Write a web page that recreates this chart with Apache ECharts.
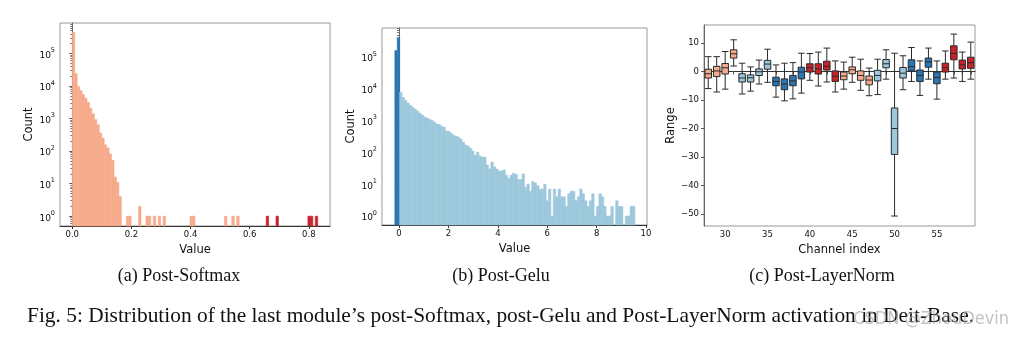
<!DOCTYPE html>
<html><head><meta charset="utf-8">
<script src="https://cdn.jsdelivr.net/npm/echarts@6/dist/echarts.min.js"></script>
<style>html,body{margin:0;padding:0;background:#fff;}#c{width:1009px;height:337px;}</style>
</head><body><div id="c"></div>
<script>
// ---------- Panel (a): Post-Softmax histogram ----------
const softmaxBinStart = 0;
const softmaxBinWidth = 0.0083;
const softmaxCounts = [
  450000,24000,9600,7200,5400,4200,3100,2100,1400,920,
  640,360,250,155,125,82,52,16,11,4,
  0,0,1,1,0,0,0,2,0,0,
  1,1,0,1,0,1,0,1,0,0,
  0,0,0,0,0,0,0,0,1,1,
  0,0,0,0,0,0,0,0,0,0,
  0,0,1,0,0,1,0,1,0,0,
  0,0,0,0,0,0,0,0,0,1,
  0,0,0,1,0,0,0,0,0,0,
  0,0,0,0,0,0,1,1,0,1
];
const softmaxXTicks = [0, 0.2, 0.4, 0.6, 0.8];
const softmaxOutlierFrom = 0.6;

// ---------- Panel (b): Post-Gelu histogram ----------
const geluBinStart = -0.17;
const geluBinWidth = 0.0972;
const geluCounts = [
  160000,410000,7760,5370,4370,3550,3020,2630,2290,2000,
  1700,1480,1290,1200,1100,1000,890,776,760,660,
  617,468,460,398,347,324,302,263,209,170,
  158,135,110,81,102,76,71,70,40,30,
  49,35,30,26,26,28,19,15,19,22,
  20,14,14,21,8,10,6,12,11,9,
  7,7,10,3,7,1,7,4,7,4,
  4,2,5,6,6,3,4,7,5,3,
  2,3,5,1,2,5,4,2,1,1,
  2,0,3,2,2,0,1,1,2,2
];
const geluXTicks = [0, 2, 4, 6, 8, 10];
const logTicks = [1, 10, 100, 1000, 10000, 100000];

// ---------- Panel (c): Post-LayerNorm boxplots ----------
const channels = [28,29,30,31,32,33,34,35,36,37,38,39,40,41,42,43,44,45,46,47,48,49,50,51,52,53,54,55,56,57,58,59];
// [min, Q1, median, Q3, max]
const boxStats = [
  [-6.0,-2.3,-0.8,0.8,5.2],
  [-7.2,-1.8,0.2,1.8,5.2],
  [-6.2,-0.9,1.3,2.8,7.0],
  [1.9,4.7,6.2,7.6,11.1],
  [-7.9,-3.7,-2.3,-0.8,2.9],
  [-6.9,-3.7,-2.2,-1.2,1.6],
  [-4.4,-1.4,-0.1,0.9,4.0],
  [-3.8,0.8,2.6,3.9,7.8],
  [-9.0,-5.0,-3.5,-2.0,2.3],
  [-10.3,-6.4,-4.4,-2.6,2.9],
  [-9.6,-5.0,-3.3,-1.4,3.1],
  [-7.6,-2.6,-0.2,1.5,6.4],
  [-3.1,-0.2,1.3,2.7,6.3],
  [-5.1,-0.9,0.9,2.7,6.8],
  [-3.7,0.5,1.8,3.6,8.2],
  [-7.2,-3.5,-1.7,0.2,3.7],
  [-6.2,-2.9,-1.6,-0.2,3.3],
  [-3.8,-0.8,0.6,1.6,5.0],
  [-6.6,-3.1,-1.4,0.2,4.3],
  [-8.5,-4.7,-3.0,-1.6,1.2],
  [-8.1,-3.3,-1.4,0.4,4.3],
  [-2.7,1.3,2.7,4.2,7.6],
  [-50.7,-29.1,-20.0,-12.8,6.4],
  [-6.4,-2.3,-0.6,1.4,5.5],
  [-3.5,0.2,1.7,4.1,8.4],
  [-8.4,-3.5,-1.4,0.5,3.7],
  [-2.7,1.5,3.4,4.7,8.2],
  [-9.7,-4.3,-2.1,-0.2,3.7],
  [-2.7,-0.2,1.3,2.9,7.2],
  [-2.3,4.1,6.3,9.0,13.1],
  [-3.5,0.9,2.3,4.0,6.8],
  [-2.7,1.1,3.1,5.0,10.3]
];
const rangeTicks = [-50, -40, -30, -20, -10, 0, 10];
const channelTickLabels = [30, 35, 40, 45, 50, 55];

const subCaptions = ['(a) Post-Softmax', '(b) Post-Gelu', '(c) Post-LayerNorm'];
const figCaption = 'Fig. 5: Distribution of the last module\u2019s post-Softmax, post-Gelu and Post-LayerNorm activation in Deit-Base.';
const watermark = 'CSDN @ZhouDevin';

// ---------- styles ----------
const C_SALMON = '#F6AB8C';
const C_RED = '#C9232A';
const C_LBLUE = '#9CC8DC';
const C_DBLUE = '#2A76B4';
const FONT = 'DejaVu Sans';
const TICK_FS = 8.5;
const boxPalette = [C_SALMON, C_LBLUE, C_DBLUE, C_RED];

const A_YMIN = 0.5, A_YMAX = 8.6e5;
const B_YMIN = 0.52, B_YMAX = 8.2e5;

function histItems(start, width, counts) {
  const out = [];
  counts.forEach((c, i) => { if (c > 0) out.push([start + i * width, start + (i + 1) * width, c]); });
  return out;
}
function histRender(colorFn, yBase) {
  return function (params, api) {
    const x0 = api.value(0), x1 = api.value(1), c = api.value(2);
    const p0 = api.coord([x0, c]);
    const p1 = api.coord([x1, yBase]);
    const cs = params.coordSys;
    const rect = echarts.graphic.clipRectByRect(
      { x: p0[0], y: p0[1], width: p1[0] - p0[0], height: p1[1] - p0[1] },
      { x: cs.x, y: cs.y, width: cs.width, height: cs.height });
    if (!rect) return;
    const col = colorFn((x0 + x1) / 2);
    return { type: 'rect', shape: rect, style: { fill: col, stroke: col, lineWidth: 0.6 } };
  };
}
function supFormatter(v) {
  const e = Math.round(Math.log10(v));
  return '{b|10}{s|' + e + '}';
}
const supRich = {
  b: { fontFamily: FONT, fontSize: 9, color: '#111', lineHeight: 13, verticalAlign: 'bottom' },
  s: { fontFamily: FONT, fontSize: 6.5, color: '#111', lineHeight: 13, verticalAlign: 'top' }
};
function logYAxis(gridIndex, min, max) {
  return {
    type: 'log', gridIndex, min, max, logBase: 10,
    name: 'Count', nameLocation: 'middle', nameGap: 24,
    nameTextStyle: { fontFamily: FONT, fontSize: 11.5, color: '#111' },
    axisLine: { show: true, lineStyle: { color: '#666', width: 1 } },
    axisTick: { show: true, length: 3, lineStyle: { color: '#555' }, customValues: logTicks },
    minorTick: { show: true, splitNumber: 9, length: 2, lineStyle: { color: '#777' } },
    axisLabel: { customValues: logTicks, formatter: supFormatter, rich: supRich, margin: 5 },
    splitLine: { show: false }, minorSplitLine: { show: false }
  };
}
function valXAxis(gridIndex, min, max, ticks, fmt) {
  return {
    type: 'value', gridIndex, min, max,
    name: 'Value', nameLocation: 'middle', nameGap: 14,
    nameTextStyle: { fontFamily: FONT, fontSize: 11.5, color: '#111' },
    axisLine: { show: true, onZero: false, lineStyle: { color: '#333', width: 1 } },
    axisTick: { show: true, length: 3, lineStyle: { color: '#333' }, customValues: ticks },
    axisLabel: { customValues: ticks, formatter: fmt, fontFamily: FONT, fontSize: TICK_FS, color: '#111', margin: 4 },
    splitLine: { show: false }
  };
}

const chart = echarts.init(document.getElementById('c'), null, { renderer: 'canvas' });
const option = {
  animation: false,
  backgroundColor: '#fff',
  grid: [
    { left: 60, top: 23, width: 270, height: 203, show: true, borderColor: '#999', borderWidth: 1 },
    { left: 382, top: 28, width: 265, height: 197, show: true, borderColor: '#999', borderWidth: 1 },
    { left: 704, top: 25, width: 271, height: 201, show: true, borderColor: '#999', borderWidth: 1 }
  ],
  xAxis: [
    valXAxis(0, -0.0415, 0.8715, softmaxXTicks, v => v.toFixed(1)),
    valXAxis(1, -0.69, 10.04, geluXTicks, v => String(v)),
    {
      type: 'category', gridIndex: 2, data: channels.map(String),
      name: 'Channel index', nameLocation: 'middle', nameGap: 14,
      nameTextStyle: { fontFamily: FONT, fontSize: 11.5, color: '#111' },
      axisLine: { show: true, lineStyle: { color: '#333' } },
      axisTick: { show: true, alignWithLabel: true, interval: 0, length: 3, lineStyle: { color: '#555' } },
      axisLabel: {
        interval: (idx, val) => channelTickLabels.indexOf(+val) >= 0,
        fontFamily: FONT, fontSize: TICK_FS, color: '#111', margin: 4
      },
      splitLine: { show: false }
    }
  ],
  yAxis: [
    logYAxis(0, A_YMIN, A_YMAX),
    logYAxis(1, B_YMIN, B_YMAX),
    {
      type: 'value', gridIndex: 2, min: -54.2, max: 16.3,
      name: 'Range', nameLocation: 'middle', nameGap: 24,
      nameTextStyle: { fontFamily: FONT, fontSize: 11.5, color: '#111' },
      axisLine: { show: true, lineStyle: { color: '#666' } },
      axisTick: { show: true, length: 3, lineStyle: { color: '#555' }, customValues: rangeTicks },
      axisLabel: { customValues: rangeTicks, formatter: v => String(v).replace('-', '\u2212'),
        fontFamily: FONT, fontSize: TICK_FS, color: '#111', margin: 5 },
      splitLine: { show: false }
    }
  ],
  series: [
    {
      type: 'custom', xAxisIndex: 0, yAxisIndex: 0,
      data: histItems(softmaxBinStart, softmaxBinWidth, softmaxCounts),
      encode: { x: [0, 1], y: 2 },
      renderItem: histRender(x => x >= softmaxOutlierFrom ? C_RED : C_SALMON, A_YMIN)
    },
    {
      type: 'custom', xAxisIndex: 1, yAxisIndex: 1,
      data: histItems(geluBinStart, geluBinWidth, geluCounts),
      encode: { x: [0, 1], y: 2 },
      renderItem: histRender(x => x < 0 ? C_DBLUE : C_LBLUE, B_YMIN)
    },
    {
      type: 'boxplot', xAxisIndex: 2, yAxisIndex: 2,
      boxWidth: [6.5, 6.5],
      itemStyle: { borderColor: '#2a2a2a', borderWidth: 1 },
      data: boxStats.map((s, i) => ({
        value: s,
        itemStyle: { color: boxPalette[Math.floor(i / 4) % 4] }
      }))
    }
  ],
  graphic: [
    { type: 'text', x: 179, y: 276, style: { text: subCaptions[0], font: '18px "Liberation Serif"', fill: '#111', textAlign: 'center', textVerticalAlign: 'middle' } },
    { type: 'text', x: 501, y: 276, style: { text: subCaptions[1], font: '18px "Liberation Serif"', fill: '#111', textAlign: 'center', textVerticalAlign: 'middle' } },
    { type: 'text', x: 822, y: 276, style: { text: subCaptions[2], font: '18px "Liberation Serif"', fill: '#111', textAlign: 'center', textVerticalAlign: 'middle' } },
    { type: 'text', x: 27, y: 316, style: { text: figCaption, font: '21.4px "Liberation Serif"', fill: '#111', textAlign: 'left', textVerticalAlign: 'middle' } },
    { type: 'text', x: 1009, y: 319, style: { text: watermark, font: '18px "DejaVu Sans Condensed", "DejaVu Sans"', fill: 'rgba(170,170,170,0.7)', textAlign: 'right', textVerticalAlign: 'middle' } }
  ]
};
chart.setOption(option);
</script>
</body></html>
